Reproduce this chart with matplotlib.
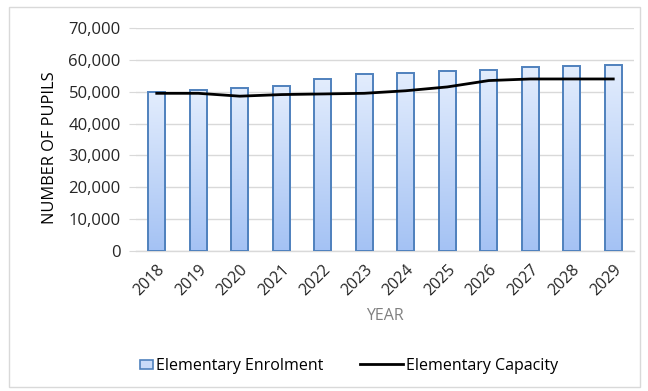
import numpy as np
import matplotlib.pyplot as plt
from matplotlib.patches import Rectangle, Patch
from matplotlib.colors import LinearSegmentedColormap
from matplotlib.legend_handler import HandlerPatch
from matplotlib.ticker import FuncFormatter

# data
years = ["2018", "2019", "2020", "2021", "2022", "2023",
         "2024", "2025", "2026", "2027", "2028", "2029"]
enrolment = [49800, 50500, 51100, 51900, 53900, 55700,
             56000, 56600, 56900, 57700, 58000, 58300]
capacity = [49500, 49500, 48600, 49100, 49300, 49500,
            50300, 51500, 53500, 54000, 54000, 54000]

plt.rcParams['font.family'] = ['Open Sans', 'DejaVu Sans']

fig = plt.figure(figsize=(6.48, 3.91), dpi=100)
ax = fig.add_axes([136 / 648, 1 - 251 / 391, (634 - 136) / 648, (251 - 28) / 391])

x = np.arange(len(years))
bars = ax.bar(x, enrolment, width=0.41, facecolor="none",
              edgecolor="#4f81bd", linewidth=1.4, zorder=3)

# gradient fill for each bar
cmap = LinearSegmentedColormap.from_list("bluegrad", ["#a4c2f4", "#e3edfd"])
grad = np.linspace(0, 1, 256).reshape(-1, 1)
for b in bars:
    x0, y0 = b.get_x(), b.get_y()
    w, h = b.get_width(), b.get_height()
    im = ax.imshow(grad, cmap=cmap, origin="lower", aspect="auto",
                   extent=[x0, x0 + w, y0, y0 + h], zorder=2)
    im.set_clip_path(b)

line, = ax.plot(x, capacity, color="black", linewidth=2.0, zorder=4,
                solid_joinstyle="round")

ax.set_xlim(-0.5, len(years) - 0.5)
ax.set_ylim(0, 70000)
ax.set_yticks(np.arange(0, 70001, 10000))
ax.yaxis.set_major_formatter(FuncFormatter(lambda v, p: f"{int(v):,}"))
ax.set_xticks(x)
ax.set_xticklabels(years, rotation=45, ha="right", rotation_mode="anchor")

ax.grid(axis="y", color="#d9d9d9", linewidth=1.0, zorder=0)
for s in ["top", "right", "left"]:
    ax.spines[s].set_visible(False)
ax.spines["bottom"].set_color("#d9d9d9")
ax.spines["bottom"].set_linewidth(1.0)
ax.tick_params(axis="y", length=5, color="#d9d9d9", labelsize=12,
               labelcolor="#262626", pad=6)
ax.tick_params(axis="x", length=0, labelsize=11.5, labelcolor="#262626", pad=8)

ax.set_ylabel("NUMBER OF PUPILS", fontsize=11.8)
ax.yaxis.set_label_coords(-0.157, 0.462)
ax.set_xlabel("YEAR", fontsize=11.5, color="#808080", labelpad=6)


class BoxHandler(HandlerPatch):
    def create_artists(self, legend, orig_handle, xdescent, ydescent,
                       width, height, fontsize, trans):
        h = height * 0.85
        w = height * 1.25
        r = Rectangle((width - w - xdescent, -ydescent + (height - h) / 2), w, h,
                      facecolor=orig_handle.get_facecolor(),
                      edgecolor=orig_handle.get_edgecolor(), linewidth=1.2,
                      transform=trans)
        return [r]


bar_handle = Patch(facecolor="#c9dbf9", edgecolor="#4f81bd")
fig.legend([bar_handle, line], ["Elementary Enrolment", "Elementary Capacity"],
           handler_map={Patch: BoxHandler()},
           loc="center", bbox_to_anchor=(334 / 648, 1 - 366 / 391),
           ncol=2, frameon=False, fontsize=11.5, columnspacing=2.3,
           handlelength=2.7, handletextpad=0.15)

# outer chart border
fig.patches.append(Rectangle((9 / 648, 4 / 391), 631 / 648, 380 / 391,
                             transform=fig.transFigure, fill=False,
                             edgecolor="#d9d9d9", linewidth=1.0))

fig.savefig("out.png", dpi=100)
